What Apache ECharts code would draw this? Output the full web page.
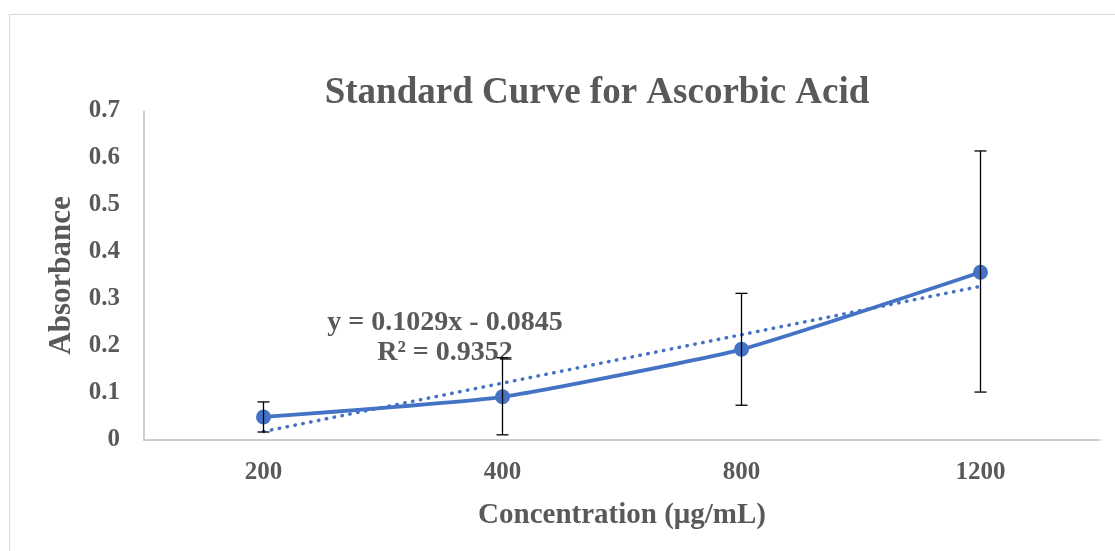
<!DOCTYPE html>
<html>
<head>
<meta charset="utf-8">
<script src="https://cdn.jsdelivr.net/npm/echarts@6/dist/echarts.min.js"></script>
<style>
html, body { margin: 0; padding: 0; background: #fff; }
#main { width: 1115px; height: 551px; }
</style>
</head>
<body>
<div id="main"></div>
<script>
var concentrations = ['200', '400', '800', '1200'];
var absorbance = [0.049, 0.092, 0.193, 0.357];
var errLow = [0.017, 0.011, 0.074, 0.102];
var errHigh = [0.081, 0.175, 0.312, 0.615];
var trend = [0.018, 0.121, 0.224, 0.327];
var yTicks = [0, 0.1, 0.2, 0.3, 0.4, 0.5, 0.6, 0.7];

var font = '"Liberation Serif", "Times New Roman", serif';
var grey = '#595959';
var blue = '#4472C4';

var myChart = echarts.init(document.getElementById('main'));

var errData = concentrations.map(function (c, i) {
    return [i, errLow[i], errHigh[i]];
});

var option = {
    animation: false,
    textStyle: { fontFamily: font },
    graphic: [{
        type: 'rect',
        shape: { x: 9.5, y: 14.5, width: 1120, height: 560 },
        style: { fill: 'none', stroke: '#d9d9d9', lineWidth: 1 }
    }, {
        type: 'text',
        style: {
            x: 445,
            y: 308,
            text: 'y = 0.1029x - 0.0845\nR² = 0.9352',
            fill: grey,
            font: 'bold 28px ' + font,
            align: 'center',
            lineHeight: 30
        }
    }],
    title: {
        text: 'Standard Curve for Ascorbic Acid',
        left: 592,
        textAlign: 'center',
        top: 70,
        textStyle: { fontFamily: font, fontSize: 37, fontWeight: 'bold', color: grey }
    },
    grid: { left: 144, right: 15, top: 111, bottom: 111 },
    xAxis: {
        type: 'category',
        data: concentrations,
        boundaryGap: true,
        name: 'Concentration (μg/mL)',
        nameLocation: 'middle',
        nameGap: 61,
        nameTextStyle: { fontFamily: font, fontSize: 29, fontWeight: 'bold', color: grey },
        axisLine: { lineStyle: { color: '#bfbfbf', width: 1.5 } },
        axisTick: { show: false },
        axisLabel: { fontFamily: font, fontSize: 25, fontWeight: 'bold', color: grey, margin: 20 }
    },
    yAxis: {
        type: 'value',
        min: yTicks[0],
        max: yTicks[yTicks.length - 1],
        interval: 0.1,
        name: 'Absorbance',
        nameLocation: 'middle',
        nameGap: 66,
        nameTextStyle: { fontFamily: font, fontSize: 31, fontWeight: 'bold', color: grey },
        axisLine: { show: true, lineStyle: { color: '#bfbfbf', width: 1.5 } },
        axisTick: { show: false },
        splitLine: { show: false },
        axisLabel: { fontFamily: font, fontSize: 25, fontWeight: 'bold', color: grey, margin: 24, padding: [4, 0, 0, 0] }
    },
    series: [{
        name: 'Trend',
        type: 'line',
        data: trend,
        symbol: 'none',
        lineStyle: { color: blue, width: 3.5, type: [0.5, 7.5], cap: 'round' },
        z: 2
    }, {
        name: 'Absorbance',
        type: 'line',
        data: absorbance,
        smooth: 0.15,
        symbol: 'circle',
        symbolSize: 15,
        itemStyle: { color: blue },
        lineStyle: { color: blue, width: 3.8 },
        z: 3
    }, {
        name: 'Error',
        type: 'custom',
        data: errData,
        z: 4,
        renderItem: function (params, api) {
            var x = api.value(0);
            var lo = api.coord([x, api.value(1)]);
            var hi = api.coord([x, api.value(2)]);
            var w = 6;
            var st = { stroke: '#000', lineWidth: 1.3 };
            return {
                type: 'group',
                children: [
                    { type: 'line', shape: { x1: hi[0], y1: hi[1], x2: lo[0], y2: lo[1] }, style: st },
                    { type: 'line', shape: { x1: hi[0] - w, y1: hi[1], x2: hi[0] + w, y2: hi[1] }, style: st },
                    { type: 'line', shape: { x1: lo[0] - w, y1: lo[1], x2: lo[0] + w, y2: lo[1] }, style: st }
                ]
            };
        }
    }]
};

myChart.setOption(option);
</script>
</body>
</html>
